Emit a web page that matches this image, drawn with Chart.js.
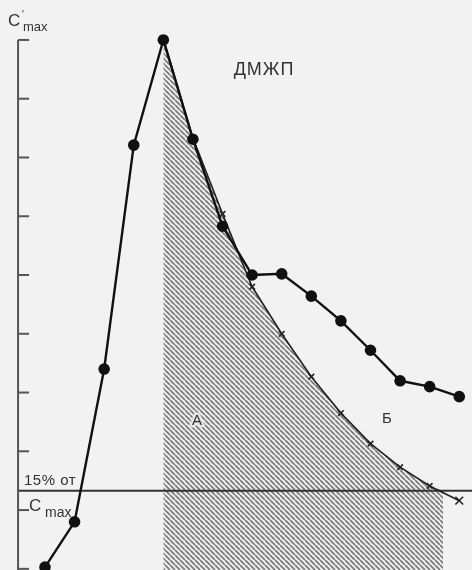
<!DOCTYPE html>
<html>
<head>
<meta charset="utf-8">
<script src="https://cdn.jsdelivr.net/npm/chart.js@4.4.1/dist/chart.umd.min.js"></script>
<style>
  body { margin: 0; background: #f2f2f2; }
  #wrap { width: 472px; height: 570px; position: relative; }
</style>
</head>
<body>
<div id="wrap"><canvas id="curve"></canvas></div>
<script>
// time points (equal steps) and concentration, in axis tick units
const timePoints = [0, 1, 2, 3, 4, 5, 6, 7, 8, 9, 10, 11, 12, 13, 14];
const measured = [0.03, 0.80, 3.40, 7.21, 9.00, 7.31, 5.83, 5.00, 5.02, 4.64, 4.22, 3.72, 3.20, 3.10, 2.93];
const fitTimes = [4, 5, 6, 7, 8, 9, 10, 11, 12, 13, 14];
const fitted = [9.03, 7.33, 6.04, 4.80, 4.00, 3.27, 2.65, 2.13, 1.73, 1.41, 1.16];
const yTicks = [0, 1, 2, 3, 4, 5, 6, 7, 8, 9];
const threshold = 1.33;      // 15% от C'max
const areaEnd = 13.45;       // where fitted curve reaches threshold
const axisX = -0.91;
const xMin = -1.52, xMax = 14.43, yMin = -0.02, yMax = 9.68;

function hatch() {
    const s = 5;
    const c = document.createElement("canvas");
    c.width = s; c.height = s;
    const g = c.getContext("2d");
    g.strokeStyle = "#7c7c7c";
    g.lineWidth = 1.8;
    g.beginPath();
    for (const k of [-s, 0, s]) {
        g.moveTo(k, 0);
        g.lineTo(k + s, s);
    }
    g.stroke();
    return g.createPattern(c, "repeat");
}

const areaPoints = fitTimes
    .map((t, i) => ({ x: t, y: fitted[i] }))
    .filter(p => p.x <= areaEnd);
areaPoints.push({ x: areaEnd, y: threshold });

const axisAndText = {
    id: "axisAndText",
    afterDraw(chart) {
        const ctx = chart.ctx;
        const xs = chart.scales.x, ys = chart.scales.y;
        const ax = xs.getPixelForValue(axisX);
        ctx.save();
        ctx.strokeStyle = "#555";
        ctx.lineWidth = 2;
        ctx.beginPath();
        ctx.moveTo(ax, ys.getPixelForValue(yTicks[yTicks.length - 1]));
        ctx.lineTo(ax, ys.getPixelForValue(yMin));
        ctx.stroke();
        yTicks.forEach(v => {
            const py = ys.getPixelForValue(v);
            ctx.beginPath();
            ctx.moveTo(ax, py);
            ctx.lineTo(ax + 11, py);
            ctx.stroke();
        });

        ctx.fillStyle = "#333";
        ctx.textBaseline = "alphabetic";
        ctx.textAlign = "left";
        ctx.font = "17px 'Liberation Sans'";
        ctx.fillText("C", 8, 26);
        ctx.font = "10px 'Liberation Sans'";
        ctx.fillText("'", 22, 18);
        ctx.font = "13px 'Liberation Sans'";
        ctx.fillText("max", 23, 31);

        ctx.font = "15px 'Liberation Sans'";
        ctx.letterSpacing = "0.5px";
        ctx.fillText("15% от", 24, 485);
        ctx.letterSpacing = "0px";
        ctx.font = "17px 'Liberation Sans'";
        ctx.fillText("C", 29, 511);
        ctx.font = "14px 'Liberation Sans'";
        ctx.fillText("max", 45, 517);

        ctx.textAlign = "center";
        ctx.textBaseline = "middle";
        ctx.font = "18px 'Liberation Sans'";
        ctx.letterSpacing = "1px";
        ctx.fillText("ДМЖП", 264, 70);
        ctx.letterSpacing = "0px";
        ctx.font = "15px 'Liberation Sans'";
        ctx.fillText("Б", 387, 419);
        ctx.lineJoin = "round";
        ctx.lineWidth = 5;
        ctx.strokeStyle = "rgba(236,236,236,0.85)";
        ctx.strokeText("А", 197, 421);
        ctx.fillText("А", 197, 421);
        ctx.restore();
    }
};

new Chart(document.getElementById("curve"), {
    type: "scatter",
    data: {
        datasets: [
            {
                label: "measured",
                data: timePoints.map((t, i) => ({ x: t, y: measured[i] })),
                showLine: true,
                borderColor: "#111",
                backgroundColor: "#111",
                borderWidth: 2.4,
                pointRadius: 4.6,
                pointStyle: "circle",
                order: 0,
            },
            {
                label: "fitted",
                data: fitTimes.map((t, i) => ({ x: t, y: fitted[i] })),
                showLine: true,
                borderColor: "#222",
                borderWidth: 1.6,
                pointStyle: "crossRot",
                pointRadius: fitTimes.map((t, i) => (i === fitTimes.length - 1 ? 5.5 : 4)),
                pointBorderWidth: 1.6,
                order: 1,
            },
            {
                label: "15%",
                data: [{ x: axisX, y: threshold }, { x: xMax, y: threshold }],
                showLine: true,
                borderColor: "#333",
                borderWidth: 2,
                pointRadius: 0,
                order: 2,
            },
            {
                label: "area",
                data: areaPoints,
                showLine: true,
                borderWidth: 0,
                pointRadius: 0,
                backgroundColor: hatch(),
                fill: "start",
                order: 3,
            },
        ],
    },
    options: {
        responsive: true,
        maintainAspectRatio: false,
        animation: false,
        layout: { padding: 0, autoPadding: false },
        plugins: { legend: { display: false }, tooltip: { enabled: false } },
        scales: {
            x: { type: "linear", min: xMin, max: xMax, display: false },
            y: { type: "linear", min: yMin, max: yMax, display: false },
        },
    },
    plugins: [axisAndText],
});
</script>
</body>
</html>
